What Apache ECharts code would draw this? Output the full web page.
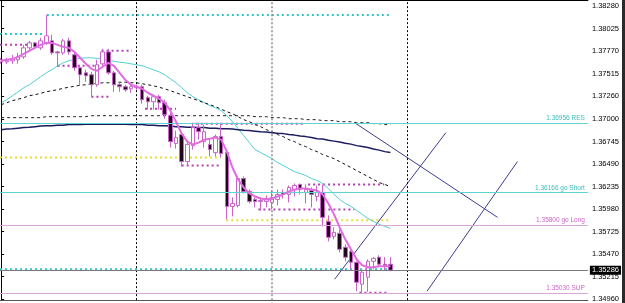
<!DOCTYPE html>
<html>
<head>
<meta charset="utf-8">
<script src="https://cdn.jsdelivr.net/npm/echarts@6/dist/echarts.min.js"></script>
<style>
  html, body { margin: 0; padding: 0; background: #fff; }
  #chart { width: 622px; height: 303px; border-right: 3px solid #2b2b2b; }
</style>
</head>
<body>
<div id="chart"></div>
<script>
// bars: index 0..69, prices
const opens = [1.37647,1.37647,1.37659,1.37670,1.37704,1.37806,1.37862,1.37806,1.37862,1.37885,
  1.37760,1.37749,1.37885,1.37727,1.37580,1.37523,1.37501,1.37388,1.37625,1.37760,
  1.37523,1.37388,1.37365,1.37342,1.37354,1.37365,1.37241,1.37195,1.37252,1.37184,
  1.37037,1.36721,1.36823,1.36517,1.36698,1.36902,1.36743,1.36710,1.36619,1.36800,
  1.36619,1.36009,1.36020,1.36325,1.36178,1.36088,1.36065,1.36065,1.36054,1.36088,
  1.36167,1.36145,1.36201,1.36258,1.36167,1.36190,1.36122,1.36167,1.35839,1.35670,
  1.35704,1.35546,1.35500,1.35376,1.35128,1.35207,1.35387,1.35433,1.35354,1.35354]
const closes = [1.37670,1.37659,1.37681,1.37704,1.37806,1.37862,1.37817,1.37885,1.37941,1.37749,
  1.37749,1.37885,1.37760,1.37580,1.37501,1.37489,1.37388,1.37614,1.37760,1.37523,
  1.37388,1.37365,1.37331,1.37365,1.37365,1.37218,1.37195,1.37252,1.37184,1.37049,
  1.36743,1.36789,1.36517,1.36710,1.36902,1.36856,1.36856,1.36653,1.36800,1.36608,
  1.36009,1.36043,1.36325,1.36178,1.36065,1.36065,1.36077,1.36099,1.36111,1.36145,
  1.36145,1.36224,1.36246,1.36201,1.36201,1.36145,1.36167,1.35885,1.35659,1.35715,
  1.35523,1.35433,1.35376,1.35150,1.35263,1.35387,1.35421,1.35354,1.35342,1.35286]
const lows = [1.37625,1.37625,1.37625,1.37625,1.37681,1.37783,1.37794,1.37783,1.37840,1.37727,
  1.37591,1.37727,1.37727,1.37546,1.37388,1.37421,1.37252,1.37365,1.37602,1.37501,
  1.37308,1.37308,1.37308,1.37297,1.37331,1.37173,1.37105,1.37105,1.37105,1.37003,
  1.36676,1.36664,1.36461,1.36472,1.36653,1.36766,1.36676,1.36574,1.36574,1.36563,
  1.35862,1.35896,1.35998,1.36156,1.36043,1.35998,1.35964,1.35998,1.35975,1.36020,
  1.36099,1.36054,1.36122,1.36145,1.36043,1.35998,1.36065,1.35783,1.35613,1.35636,
  1.35489,1.35387,1.35297,1.35048,1.35030,1.35041,1.35297,1.35331,1.35286,1.35274]
const highs = [1.37693,1.37693,1.37727,1.37749,1.37840,1.37885,1.37873,1.37919,1.38179,1.37953,
  1.37772,1.37907,1.37919,1.37760,1.37614,1.37557,1.37534,1.37670,1.37794,1.37794,
  1.37546,1.37410,1.37388,1.37388,1.37388,1.37388,1.37263,1.37275,1.37275,1.37218,
  1.37071,1.36868,1.36856,1.36743,1.36958,1.36958,1.36936,1.36766,1.36823,1.36958,
  1.36642,1.36111,1.36348,1.36348,1.36201,1.36111,1.36111,1.36133,1.36190,1.36201,
  1.36201,1.36246,1.36269,1.36269,1.36258,1.36224,1.36246,1.36258,1.35907,1.35772,
  1.35749,1.35580,1.35546,1.35387,1.35297,1.35410,1.35433,1.35455,1.35433,1.35433]

// moving averages
const maFast = [1.37659,1.37670,1.37681,1.37704,1.37738,1.37772,1.37806,1.37840,1.37862,1.37862,
  1.37840,1.37817,1.37806,1.37760,1.37693,1.37625,1.37568,1.37546,1.37591,1.37636,
  1.37602,1.37523,1.37444,1.37388,1.37365,1.37342,1.37297,1.37263,1.37229,1.37184,
  1.37094,1.36969,1.36834,1.36743,1.36710,1.36732,1.36766,1.36777,1.36789,1.36766,
  1.36630,1.36450,1.36314,1.36224,1.36156,1.36122,1.36099,1.36088,1.36099,1.36122,
  1.36145,1.36178,1.36201,1.36212,1.36212,1.36201,1.36190,1.36145,1.36043,1.35919,
  1.35772,1.35636,1.35523,1.35410,1.35342,1.35320,1.35320,1.35331,1.35331,1.35331]
const maCyan = [1.37184,1.37218,1.37263,1.37308,1.37354,1.37388,1.37433,1.37478,1.37523,1.37557,
  1.37602,1.37636,1.37659,1.37676,1.37687,1.37693,1.37693,1.37687,1.37676,1.37664,
  1.37653,1.37642,1.37636,1.37625,1.37614,1.37602,1.37580,1.37557,1.37534,1.37501,
  1.37455,1.37410,1.37354,1.37297,1.37252,1.37218,1.37184,1.37150,1.37128,1.37094,
  1.37037,1.36969,1.36890,1.36811,1.36732,1.36653,1.36619,1.36585,1.36551,1.36506,
  1.36472,1.36438,1.36404,1.36382,1.36359,1.36325,1.36303,1.36269,1.36212,1.36145,
  1.36088,1.36043,1.36009,1.35964,1.35919,1.35873,1.35839,1.35806,1.35783,1.35760]
const maDashed = [1.37162,1.37184,1.37207,1.37224,1.37241,1.37263,1.37275,1.37291,1.37308,1.37320,
  1.37331,1.37348,1.37359,1.37371,1.37382,1.37388,1.37399,1.37404,1.37410,1.37410,
  1.37416,1.37416,1.37416,1.37410,1.37410,1.37399,1.37388,1.37376,1.37359,1.37342,
  1.37320,1.37297,1.37275,1.37252,1.37229,1.37207,1.37184,1.37162,1.37139,1.37111,
  1.37082,1.37060,1.37026,1.36992,1.36969,1.36936,1.36913,1.36879,1.36856,1.36823,
  1.36800,1.36766,1.36743,1.36710,1.36687,1.36653,1.36630,1.36597,1.36574,1.36551,
  1.36517,1.36484,1.36450,1.36416,1.36382,1.36348,1.36314,1.36280,1.36258,1.36235]
const maSlowDashed = [1.37015,1.37015,1.37015,1.37015,1.37015,1.37015,1.37015,1.37015,1.37026,1.37026,
  1.37026,1.37026,1.37026,1.37026,1.37026,1.37026,1.37037,1.37037,1.37037,1.37037,
  1.37037,1.37037,1.37037,1.37037,1.37037,1.37037,1.37037,1.37037,1.37037,1.37037,
  1.37037,1.37037,1.37037,1.37037,1.37037,1.37037,1.37037,1.37037,1.37037,1.37037,
  1.37037,1.37037,1.37037,1.37037,1.37037,1.37026,1.37026,1.37026,1.37015,1.37015,
  1.37015,1.37003,1.37003,1.37003,1.36992,1.36992,1.36992,1.36981,1.36981,1.36981,
  1.36969,1.36969,1.36969,1.36958,1.36958,1.36958,1.36947,1.36947,1.36936,1.36936]
const maSlow = [1.36879,1.36885,1.36890,1.36896,1.36902,1.36907,1.36913,1.36919,1.36924,1.36924,
  1.36930,1.36930,1.36936,1.36936,1.36936,1.36941,1.36941,1.36941,1.36941,1.36941,
  1.36941,1.36941,1.36941,1.36936,1.36936,1.36936,1.36930,1.36930,1.36924,1.36924,
  1.36919,1.36913,1.36913,1.36907,1.36907,1.36902,1.36902,1.36896,1.36896,1.36890,
  1.36890,1.36885,1.36879,1.36873,1.36868,1.36862,1.36856,1.36851,1.36845,1.36839,
  1.36834,1.36823,1.36817,1.36806,1.36800,1.36789,1.36777,1.36772,1.36760,1.36749,
  1.36738,1.36726,1.36715,1.36698,1.36687,1.36676,1.36659,1.36647,1.36630,1.36619]

// price axis labels
const tickValues = [1.38280,1.38025,1.37770,1.37515,1.37260,1.37000,1.36745,
  1.36490,1.36235,1.35980,1.35725,1.35470,1.35215,1.34960]

// named levels: [price, text, line colour, text colour]
const levels = [
  [1.36956, '1.36956 RES', '#5fd3d3', '#3cbcbc'],
  [1.36166, '1.36166 go Short', '#5fd3d3', '#3cbcbc'],
  [1.35800, '1.35800 go Long', '#d9a6d9', '#cc66cc'],
  [1.35030, '1.35030 SUP', '#d9a6d9', '#cc66cc']
]
const bidPrice = 1.35286

// dotted segments: [fromBar, toBar, price]
const pinkDots = [[-0.2, 7.4, 1.37840], [10, 17.4, 1.37602], [17.8, 23.2, 1.37772],
  [16, 19.2, 1.37252], [25.5, 31, 1.37116], [32, 38.9, 1.36472], [34.5, 53.5, 1.36947],
  [45.6, 62.6, 1.35975], [54.4, 67.9, 1.36258], [63.5, 68.8, 1.35030]]
const cyanDots = [[-0.2, 7.4, 1.37964], [8.1, 69, 1.38179], [-0.2, 68.6, 1.35297]]
const yellowDots = [[-0.2, 38.9, 1.36563], [39.9, 69, 1.35851]]

// trend lines: [[bar, price], [bar, price]]
const trendLines = [
  [[62.64, 1.36958], [87.99, 1.35885]],
  [[59.12, 1.35184], [78.83, 1.36845]],
  [[75.49, 1.35048], [91.51, 1.36517]]
]

// period separators (bar index)
const separators = [0, 24, 72]
const midSeparator = 48

const chart = echarts.init(document.getElementById('chart'))
const bars = opens.map((o, i) => [i, o, closes[i], lows[i], highs[i]])
const asLine = arr => arr.map((v, i) => [i, v])

const segSeries = (list, color) => list.map(s => ({
  type: 'line',
  data: [[s[0], s[2]], [s[1], s[2]]],
  symbol: 'none',
  silent: true,
  z: 2,
  lineStyle: { color: color, width: 2, type: [2, 3] }
}))

const maSeries = (arr, color, width, type, z) => ({
  type: 'line',
  data: asLine(arr),
  symbol: 'none',
  silent: true,
  z: z,
  lineStyle: { color: color, width: width, type: type }
})

const option = {
  animation: false,
  backgroundColor: '#fff',
  grid: { left: 0, top: 0, right: 30, bottom: 2 },
  xAxis: [{
    type: 'value', min: -0.2, max: 104, position: 'top',
    axisLine: { show: true, onZero: false, lineStyle: { color: '#000', width: 1 } },
    axisTick: { show: false }, axisLabel: { show: false }, splitLine: { show: false }
  }, {
    type: 'value', min: -0.2, max: 104, position: 'bottom',
    axisLine: { show: true, onZero: false, lineStyle: { color: '#555', width: 1 } },
    axisTick: { show: false }, axisLabel: { show: false }, splitLine: { show: false }
  }],
  yAxis: {
    type: 'value', position: 'right', min: 1.34947, max: 1.38348, scale: true,
    axisLine: { show: true, lineStyle: { color: '#000', width: 1 } },
    axisTick: { show: true, length: 3, customValues: tickValues, lineStyle: { color: '#000' } },
    axisLabel: {
      show: true, customValues: tickValues, margin: 4,
      fontFamily: 'Liberation Sans', fontSize: 7.5, color: '#000',
      formatter: v => v.toFixed(5)
    },
    splitLine: { show: false }
  },
  series: [
    {
      type: 'line', data: [], symbol: 'none', silent: true, z: 1,
      markLine: {
        silent: true, symbol: ['none', 'none'], animation: false, precision: 5,
        data: [
          ...separators.map(x => ({ xAxis: x, lineStyle: { color: '#000', width: 1, type: [2, 2] }, label: { show: false } })),
          { xAxis: midSeparator, lineStyle: { color: '#8a8a8a', width: 1.5, type: [2, 2] }, label: { show: false } },
          ...levels.map(l => ({
            yAxis: l[0],
            lineStyle: { color: l[2], width: 1, type: 'solid' },
            label: {
              show: true, position: 'insideEndTop', formatter: l[1], color: l[3],
              fontFamily: 'Liberation Sans', fontSize: 6.5, distance: [3, 1]
            }
          })),
          {
            yAxis: bidPrice,
            lineStyle: { color: '#7a7a7a', width: 1, type: 'solid' },
            label: {
              show: true, position: 'end', formatter: bidPrice.toFixed(5), color: '#fff',
              backgroundColor: '#000', padding: [1, 2, 0, 2], distance: 2,
              fontFamily: 'Liberation Sans', fontSize: 7.5
            }
          }
        ]
      }
    },
    ...segSeries(yellowDots, '#e6df2e'),
    ...segSeries(cyanDots, '#33c6c6'),
    ...segSeries(pinkDots, '#b63fb6'),
    ...trendLines.map(t => ({
      type: 'line', data: t, symbol: 'none', silent: true, z: 2,
      lineStyle: { color: '#3d3d8f', width: 1 }
    })),
    maSeries(maCyan, '#52cfd6', 1, 'solid', 3),
    maSeries(maSlow, '#1b1b5e', 1.5, 'solid', 3),
    maSeries(maSlowDashed, '#222', 1, [3, 3], 3),
    maSeries(maDashed, '#111', 1, [3, 3], 3),
    {
      type: 'candlestick',
      data: bars,
      encode: { x: 0, y: [1, 2, 3, 4] },
      barWidth: 4,
      z: 4,
      itemStyle: {
        color: '#ffffff', color0: '#24061f',
        borderColor: '#c962c9', borderColor0: '#c962c9', borderWidth: 1
      }
    },
    maSeries(maFast, '#e06ce0', 2, 'solid', 5)
  ]
}
chart.setOption(option)
</script>
</body>
</html>
